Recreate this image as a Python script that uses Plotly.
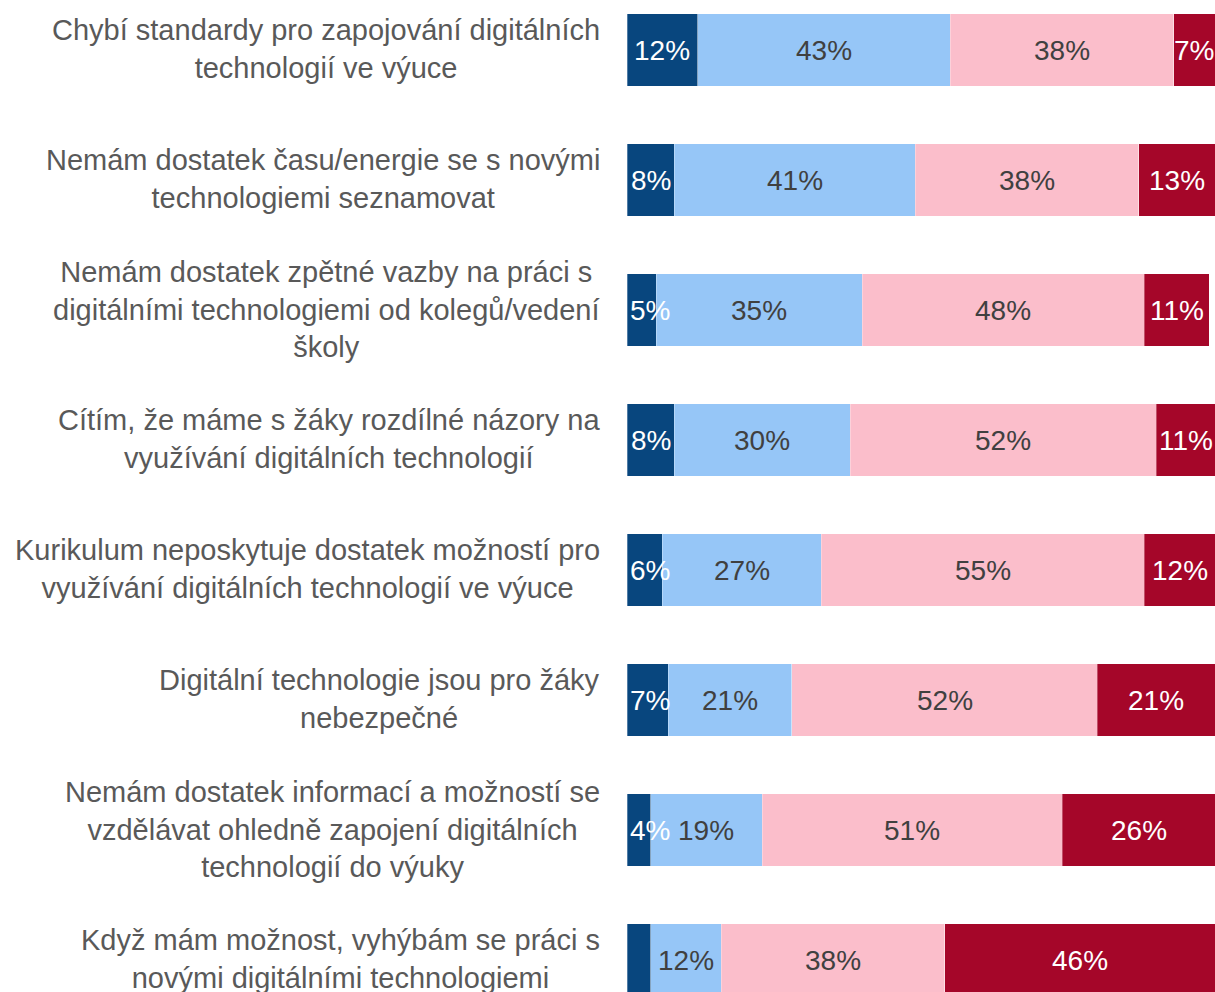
import plotly.graph_objects as go

# Survey statements (top to bottom)
statements = [
    "Chybí standardy pro zapojování digitálních<br>technologií ve výuce",
    "Nemám dostatek času/energie se s novými<br>technologiemi seznamovat",
    "Nemám dostatek zpětné vazby na práci s<br>digitálními technologiemi od kolegů/vedení<br>školy",
    "Cítím, že máme s žáky rozdílné názory na<br>využívání digitálních technologií",
    "Kurikulum neposkytuje dostatek možností pro<br>využívání digitálních technologií ve výuce",
    "Digitální technologie jsou pro žáky<br>nebezpečné",
    "Nemám dostatek informací a možností se<br>vzdělávat ohledně zapojení digitálních<br>technologií do výuky",
    "Když mám možnost, vyhýbám se práci s<br>novými digitálními technologiemi",
]

# Share of answers (%) per statement
rozhodne_ano = [12, 8, 5, 8, 6, 7, 4, 4]
spise_ano = [43, 41, 35, 30, 27, 21, 19, 12]
spise_ne = [38, 38, 48, 52, 55, 52, 51, 38]
rozhodne_ne = [7, 13, 11, 11, 12, 21, 26, 46]

# Segments whose value label is left out (statement index, series index)
unlabeled = {(7, 0)}

series = [
    ("Rozhodně ano", rozhodne_ano, "#08467E", "#FFFFFF"),
    ("Spíše ano", spise_ano, "#96C6F7", "#404040"),
    ("Spíše ne", spise_ne, "#FBBECB", "#404040"),
    ("Rozhodně ne", rozhodne_ne, "#A50629", "#FFFFFF"),
]

LABEL_FONT = "Liberation Sans, Arial, sans-serif"
VALUE_FONT = "Liberation Sans, Arial, sans-serif"
X_MAX = 100
NARROW = 8  # first segments below this width get their label pinned to the bar start
rows = list(range(len(statements)))

fig = go.Figure()
for name, vals, color, _ in series:
    fig.add_trace(go.Bar(
        name=name,
        y=rows,
        x=vals,
        orientation="h",
        width=0.555,
        marker=dict(color=color, line=dict(color="rgba(255,255,255,0.6)", width=0.5)),
        hoverinfo="skip",
    ))

# Value labels on top of all segments, centred on the visible part of each segment
for ri in rows:
    start = 0
    for si, (_, vals, _, tcolor) in enumerate(series):
        v = vals[ri]
        end = start + v
        if (ri, si) not in unlabeled:
            pinned = si == 0 and v < NARROW
            fig.add_annotation(
                x=0 if pinned else (start + min(end, X_MAX)) / 2,
                y=ri, xref="x", yref="y",
                text=f"{v}%", showarrow=False,
                xanchor="left" if pinned else "center", yanchor="middle",
                xshift=1 if pinned else 0,
                font=dict(family=VALUE_FONT, size=28, color=tcolor),
            )
        start = end

# Statement labels left of the bars
for ri, label in enumerate(statements):
    fig.add_annotation(
        x=0, xref="paper", y=ri, yref="y",
        text=label, showarrow=False,
        xanchor="right", yanchor="middle", align="center",
        xshift=-25, yshift=1,
        font=dict(family=LABEL_FONT, size=29, color="#595959"),
    )

fig.update_layout(
    barmode="stack",
    width=1215, height=992,
    margin=dict(l=627, r=0, t=0, b=0),
    paper_bgcolor="white", plot_bgcolor="white",
    showlegend=False,
    xaxis=dict(range=[0, X_MAX], visible=False, fixedrange=True),
    yaxis=dict(range=[7.246, -0.385], visible=False, fixedrange=True),
)

fig.write_html("out.html")
